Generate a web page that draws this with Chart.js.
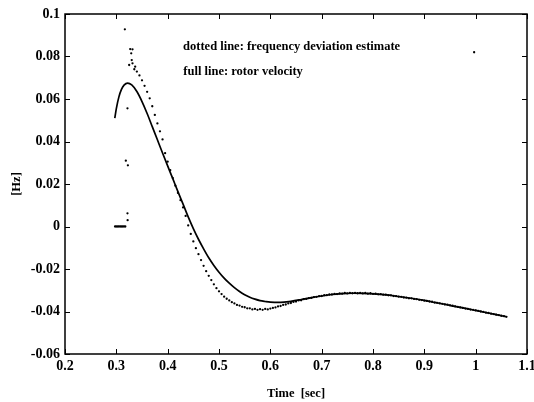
<!DOCTYPE html>
<html>
<head>
<meta charset="utf-8">
<script src="https://cdn.jsdelivr.net/npm/chart.js@4/dist/chart.umd.min.js"></script>
<style>
    body { margin: 0; background: #fff; }
    canvas { display: block; }
</style>
</head>
<body>
<canvas id="freqChart" width="534" height="402"></canvas>
<script>
// Rotor velocity (full line).
const rotorTime = [0.297, 0.300, 0.305, 0.310, 0.315, 0.322, 0.330, 0.340, 0.350, 0.360,
    0.370, 0.380, 0.390, 0.400, 0.410, 0.420, 0.430, 0.440, 0.450, 0.460,
    0.470, 0.480, 0.490, 0.500, 0.510, 0.520, 0.530, 0.540, 0.550, 0.560,
    0.570, 0.580, 0.590, 0.600, 0.620, 0.640, 0.660, 0.680, 0.700, 0.720,
    0.740, 0.760, 0.780, 0.800, 0.820, 0.840, 0.860, 0.880, 0.900, 0.920,
    0.940, 0.960, 0.980, 1.000, 1.020, 1.040, 1.059];
const rotorVelocity = [0.0510, 0.0555, 0.0610, 0.0645, 0.0665, 0.0675, 0.0666, 0.0635, 0.0588, 0.0532,
    0.0470, 0.0408, 0.0346, 0.0285, 0.0225, 0.0164, 0.0105, 0.0045, -0.0010, -0.0060,
    -0.0105, -0.0147, -0.0183, -0.0215, -0.0243, -0.0267, -0.0288, -0.0306, -0.0321, -0.0333,
    -0.0342, -0.0349, -0.0353, -0.0356, -0.0357, -0.0352, -0.0344, -0.0335, -0.0327, -0.0320,
    -0.0316, -0.0314, -0.0315, -0.0317, -0.0321, -0.0326, -0.0333, -0.0340, -0.0348, -0.0357,
    -0.0366, -0.0376, -0.0385, -0.0395, -0.0405, -0.0415, -0.0424];

// Frequency deviation estimate (dotted): start-up samples, then the regular samples.
const estStartTime = [0.2975, 0.300, 0.3025, 0.305, 0.3075, 0.310, 0.3125, 0.315, 0.3175,
    0.3166, 0.3217, 0.3220, 0.3185, 0.3225, 0.3217, 0.3270, 0.3315, 0.3290, 0.3300,
    0.3250, 0.3315, 0.3367, 0.3350, 0.9970];
const estStartValue = [0, 0, 0, 0, 0, 0, 0, 0, 0,
    0.0928, 0.0062, 0.0030, 0.0310, 0.0288, 0.0556, 0.0835, 0.0834, 0.0815, 0.0783,
    0.0760, 0.0768, 0.0752, 0.0740, 0.0820];
const estTime = [];
for (let i = 0; i <= 144; i++) {
    estTime.push(0.340 + i * 0.005);
}
const estValue = [0.0729, 0.0711, 0.0688, 0.0662, 0.0634, 0.0603, 0.0566, 0.0525, 0.0485, 0.0448,
    0.0410, 0.0345, 0.0305, 0.0265, 0.0228, 0.0192, 0.0158, 0.0124, 0.0090, 0.0050,
    0.0005, -0.0035, -0.0070, -0.0102, -0.0130, -0.0158, -0.0185, -0.0210, -0.0232, -0.0252,
    -0.0272, -0.0290, -0.0305, -0.0318, -0.0330, -0.0340, -0.0348, -0.0356, -0.0362, -0.0369,
    -0.0372, -0.0378, -0.0380, -0.0385, -0.0385, -0.0390, -0.0388, -0.0392, -0.0389, -0.0392,
    -0.0388, -0.0390, -0.0386, -0.0383, -0.0381, -0.0376, -0.0374, -0.0369, -0.0367, -0.0362,
    -0.0360, -0.0355, -0.0353, -0.0348, -0.0347, -0.0342, -0.0341, -0.0337, -0.0336, -0.0332,
    -0.0331, -0.0328, -0.0327, -0.0323, -0.0323, -0.0320, -0.0320, -0.0317, -0.0318, -0.0315,
    -0.0316, -0.0313, -0.0315, -0.0312, -0.0314, -0.0312, -0.0314, -0.0312, -0.0315, -0.0313,
    -0.0316, -0.0314, -0.0317, -0.0316, -0.0319, -0.0318, -0.0321, -0.0321, -0.0324, -0.0324,
    -0.0327, -0.0328, -0.0330, -0.0331, -0.0334, -0.0335, -0.0338, -0.0338, -0.0341, -0.0342,
    -0.0345, -0.0346, -0.0349, -0.0350, -0.0353, -0.0354, -0.0358, -0.0359, -0.0362, -0.0364,
    -0.0367, -0.0368, -0.0371, -0.0373, -0.0376, -0.0378, -0.0381, -0.0383, -0.0386, -0.0388,
    -0.0391, -0.0392, -0.0395, -0.0397, -0.0400, -0.0402, -0.0405, -0.0407, -0.0410, -0.0412,
    -0.0415, -0.0417, -0.0420, -0.0422, -0.0425];

const xTickLabels = ["0.2", "0.3", "0.4", "0.5", "0.6", "0.7", "0.8", "0.9", "1", "1.1"];
const yTickLabels = ["-0.06", "-0.04", "-0.02", "0", "0.02", "0.04", "0.06", "0.08", "0.1"];
const noteLines = ["dotted line: frequency deviation estimate", "full line: rotor velocity"];

const serif = '"Liberation Serif", "Times New Roman", serif';

const rotorPoints = rotorTime.map((t, i) => ({ x: t, y: rotorVelocity[i] }));
const estPoints = estStartTime.map((t, i) => ({ x: t, y: estStartValue[i] }))
    .concat(estTime.map((t, i) => ({ x: t, y: estValue[i] })));

// Boxed frame with inward ticks plus the two note lines.
const framePlugin = {
    id: "frame",
    afterDraw(chart) {
        const { ctx, chartArea: a, scales } = chart;
        const x = scales.x;
        const y = scales.y;
        ctx.save();
        ctx.strokeStyle = "#000";
        ctx.lineWidth = 1.5;
        ctx.strokeRect(a.left, a.top, a.right - a.left, a.bottom - a.top);
        ctx.lineWidth = 1;
        ctx.beginPath();
        x.ticks.forEach((t) => {
            const px = Math.round(x.getPixelForValue(t.value)) + 0.5;
            ctx.moveTo(px, a.bottom);
            ctx.lineTo(px, a.bottom - 5);
            ctx.moveTo(px, a.top);
            ctx.lineTo(px, a.top + 5);
        });
        y.ticks.forEach((t) => {
            const py = Math.round(y.getPixelForValue(t.value)) + 0.5;
            ctx.moveTo(a.left, py);
            ctx.lineTo(a.left + 5, py);
            ctx.moveTo(a.right, py);
            ctx.lineTo(a.right - 5, py);
        });
        ctx.stroke();

        ctx.fillStyle = "#000";
        ctx.font = "bold 12.5px " + serif;
        ctx.textBaseline = "middle";
        ctx.textAlign = "left";
        ctx.fillText(noteLines[0], x.getPixelForValue(0.43), y.getPixelForValue(0.0845));
        ctx.fillText(noteLines[1], x.getPixelForValue(0.4305), y.getPixelForValue(0.0727));
        ctx.restore();
    }
};

const ctx = document.getElementById("freqChart").getContext("2d");
new Chart(ctx, {
    type: "scatter",
    data: {
        datasets: [
            {
                label: "rotor velocity",
                data: rotorPoints,
                showLine: true,
                borderColor: "#000",
                borderWidth: 1.7,
                pointRadius: 0,
                cubicInterpolationMode: "monotone"
            },
            {
                label: "frequency deviation estimate",
                data: estPoints,
                showLine: false,
                pointRadius: 1.15,
                pointBorderWidth: 0,
                backgroundColor: "#000",
                borderColor: "#000"
            }
        ]
    },
    options: {
        responsive: false,
        animation: false,
        layout: { padding: { top: 14, right: 7, bottom: 0, left: 0 } },
        plugins: {
            legend: { display: false },
            tooltip: { enabled: false }
        },
        scales: {
            x: {
                type: "linear",
                min: 0.2,
                max: 1.1,
                grid: { display: false, drawTicks: false },
                border: { display: false },
                ticks: {
                    stepSize: 0.1,
                    padding: 4,
                    color: "#000",
                    font: { family: serif, size: 14, weight: "bold" },
                    maxRotation: 0,
                    autoSkip: false,
                    callback: (v, i) => xTickLabels[i]
                },
                title: {
                    display: true,
                    text: "Time  [sec]",
                    color: "#000",
                    font: { family: serif, size: 12.5, weight: "bold" },
                    padding: { top: 0, bottom: 1 }
                },
                afterFit: (s) => {
                    s.height = 48;
                    s.paddingLeft = 0;
                    s.paddingRight = 0;
                }
            },
            y: {
                type: "linear",
                min: -0.06,
                max: 0.1,
                grid: { display: false, drawTicks: false },
                border: { display: false },
                ticks: {
                    stepSize: 0.02,
                    padding: 5,
                    color: "#000",
                    font: { family: serif, size: 14, weight: "bold" },
                    autoSkip: false,
                    callback: (v, i) => yTickLabels[i]
                },
                title: {
                    display: true,
                    text: "[Hz]",
                    color: "#000",
                    font: { family: serif, size: 12.5, weight: "bold" },
                    padding: { top: 9, bottom: 0 }
                },
                afterFit: (s) => {
                    s.width = 65;
                    s.paddingTop = 0;
                    s.paddingBottom = 0;
                }
            }
        }
    },
    plugins: [framePlugin]
});
</script>
</body>
</html>
